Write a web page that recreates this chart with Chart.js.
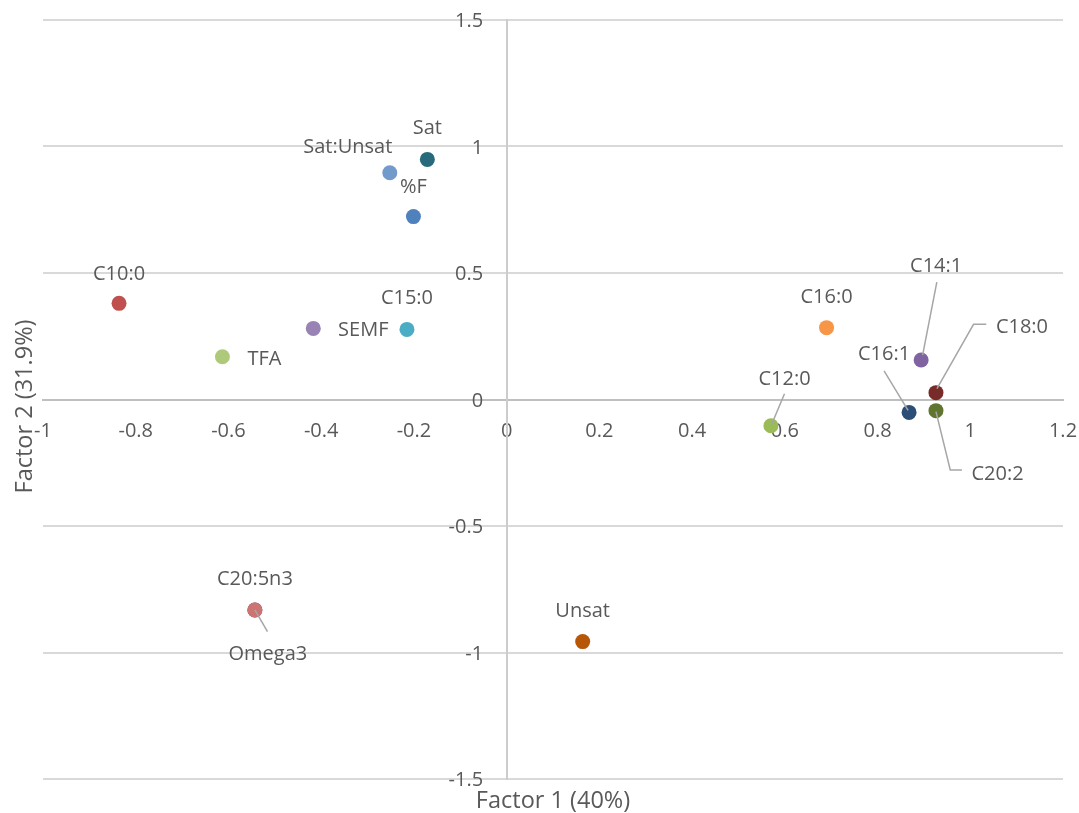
<!DOCTYPE html>
<html>
<head>
<meta charset="utf-8">
<style>
  html, body { margin: 0; padding: 0; background: #fff; }
  canvas { display: block; }
</style>
<script src="https://cdn.jsdelivr.net/npm/chart.js@4.4.1/dist/chart.umd.min.js"></script>
</head>
<body>
<canvas id="chart" width="1079" height="813"></canvas>
<script>
(() => {
  const labels = ["C10:0", "TFA", "SEMF", "C15:0", "Sat:Unsat", "Sat", "%F", "Omega3", "C20:5n3",
                  "Unsat", "C12:0", "C16:0", "C14:1", "C18:0", "C16:1", "C20:2"];
  const factor1 = [-0.836, -0.613, -0.417, -0.215, -0.252, -0.171, -0.201, -0.543, -0.543,
                   0.164, 0.570, 0.690, 0.894, 0.926, 0.868, 0.926];
  const factor2 = [0.380, 0.169, 0.281, 0.277, 0.896, 0.949, 0.723, -0.832, -0.832,
                   -0.957, -0.104, 0.284, 0.156, 0.027, -0.051, -0.044];
  const colors = ["#C0504D", "#AFC97A", "#9983B5", "#4BACC6", "#729ACA", "#276A7C", "#4F81BD", "#4D3B62", "#CD7371",
                  "#B65708", "#9BBB59", "#F79646", "#8064A2", "#772C2A", "#2C4D75", "#5F7530"];
  const xTicks = [-1, -0.8, -0.6, -0.4, -0.2, 0, 0.2, 0.4, 0.6, 0.8, 1, 1.2];
  const yTicks = [-1.5, -1, -0.5, 0, 0.5, 1, 1.5];
  const xTitle = "Factor 1 (40%)";
  const yTitle = "Factor 2 (31.9%)";

  const FONT = "'Open Sans', 'Noto Sans', sans-serif";
  const TEXT = "#595959";

  // label centre offset from its point (px), plus optional leader line
  const placement = {
    "C10:0": { dx: 0, dy: -30 },
    "TFA": { dx: 42, dy: 1.5 },
    "SEMF": { dx: 50, dy: 1 },
    "C15:0": { dx: 0, dy: -32 },
    "Sat:Unsat": { dx: -42, dy: -27 },
    "Sat": { dx: 0, dy: -32 },
    "%F": { dx: 0, dy: -31 },
    "Omega3": { dx: 13, dy: 43, leader: [[0, 0], [12.6, 21.7]] },
    "C20:5n3": { dx: 0, dy: -32 },
    "Unsat": { dx: 0, dy: -32 },
    "C12:0": { dx: 13.6, dy: -48, leader: [[13.6, -32], [1, -2]] },
    "C16:0": { dx: 0, dy: -32 },
    "C14:1": { dx: 15, dy: -95, leader: [[15.7, -78], [1.5, -5]] },
    "C18:0": { dx: 86, dy: -66.7, leader: [[50.3, -68.4], [37.6, -68.4], [1, -4]] },
    "C16:1": { dx: -25, dy: -59, leader: [[-25, -41.6], [-1, -2]] },
    "C20:2": { dx: 61.6, dy: 62, leader: [[0, 1], [14.3, 59.3], [26, 59.3]] },
  };

  const pointLabels = {
    id: "pointLabels",
    afterDatasetsDraw(chart) {
      const { ctx } = chart;
      const meta = chart.getDatasetMeta(0);
      ctx.save();
      ctx.strokeStyle = "#a6a6a6";
      ctx.lineWidth = 1.5;
      meta.data.forEach((pt, i) => {
        const p = placement[labels[i]];
        if (!p || !p.leader) return;
        ctx.beginPath();
        p.leader.forEach(([dx, dy], k) => {
          if (k === 0) ctx.moveTo(pt.x + dx, pt.y + dy);
          else ctx.lineTo(pt.x + dx, pt.y + dy);
        });
        ctx.stroke();
      });
      ctx.font = `20px ${FONT}`;
      ctx.fillStyle = TEXT;
      ctx.textAlign = "center";
      ctx.textBaseline = "alphabetic";
      meta.data.forEach((pt, i) => {
        const p = placement[labels[i]] || { dx: 0, dy: -30 };
        ctx.fillText(labels[i], pt.x + p.dx, pt.y + p.dy + 7);
      });
      ctx.restore();
    },
  };

  // y tick labels sit left of the crossing axis, Excel style
  const yTickLabels = {
    id: "yTickLabels",
    afterDraw(chart) {
      const { ctx } = chart;
      const xs = chart.scales.x, ys = chart.scales.y;
      const x0 = xs.getPixelForValue(0);
      ctx.save();
      ctx.font = `20px ${FONT}`;
      ctx.fillStyle = TEXT;
      ctx.textAlign = "right";
      ctx.textBaseline = "alphabetic";
      ys.ticks.forEach((t) => {
        ctx.fillText(String(t.value), x0 - 23.5, ys.getPixelForValue(t.value) + 7);
      });
      ctx.restore();
    },
  };

  const axisTitles = {
    id: "axisTitles",
    afterDraw(chart) {
      const { ctx, chartArea } = chart;
      ctx.save();
      ctx.font = `23.5px ${FONT}`;
      ctx.fillStyle = TEXT;
      ctx.textAlign = "center";
      ctx.textBaseline = "alphabetic";
      ctx.fillText(xTitle, (chartArea.left + chartArea.right) / 2, chartArea.bottom + 29);
      ctx.translate(32, (chartArea.top + chartArea.bottom) / 2 + 7);
      ctx.rotate(-Math.PI / 2);
      ctx.fillText(yTitle, 0, 0);
      ctx.restore();
    },
  };

  new Chart(document.getElementById("chart"), {
    type: "scatter",
    data: {
      labels,
      datasets: [{
        data: factor1.map((x, i) => ({ x, y: factor2[i] })),
        backgroundColor: colors,
        borderWidth: 0,
        pointRadius: 7.5,
        pointHoverRadius: 7.5,
      }],
    },
    options: {
      responsive: false,
      animation: false,
      layout: { padding: { left: 43, right: 16, top: 20, bottom: 34 } },
      plugins: {
        legend: { display: false },
        tooltip: { enabled: false },
      },
      scales: {
        x: {
          type: "linear",
          position: { y: 0 },
          min: -1,
          max: 1.2,
          afterBuildTicks: (scale) => { scale.ticks = xTicks.map((value) => ({ value })); },
          // end labels may overhang the plot, like Excel
          afterFit: (scale) => { scale.paddingLeft = 0; scale.paddingRight = 0; },
          grid: { display: false, drawTicks: false },
          border: { display: true, color: "#bfbfbf", width: 2 },
          ticks: {
            padding: 20,
            color: TEXT,
            font: { family: FONT, size: 20 },
            maxRotation: 0,
            autoSkip: false,
            callback: (v) => String(v),
          },
        },
        y: {
          type: "linear",
          position: { x: 0 },
          min: -1.5,
          max: 1.5,
          afterBuildTicks: (scale) => { scale.ticks = yTicks.map((value) => ({ value })); },
          grid: { color: "#d9d9d9", lineWidth: 2, drawTicks: false },
          border: { display: true, color: "#cccccc", width: 2 },
          ticks: { display: false },
        },
      },
    },
    plugins: [pointLabels, yTickLabels, axisTitles],
  });
})();
</script>
</body>
</html>
